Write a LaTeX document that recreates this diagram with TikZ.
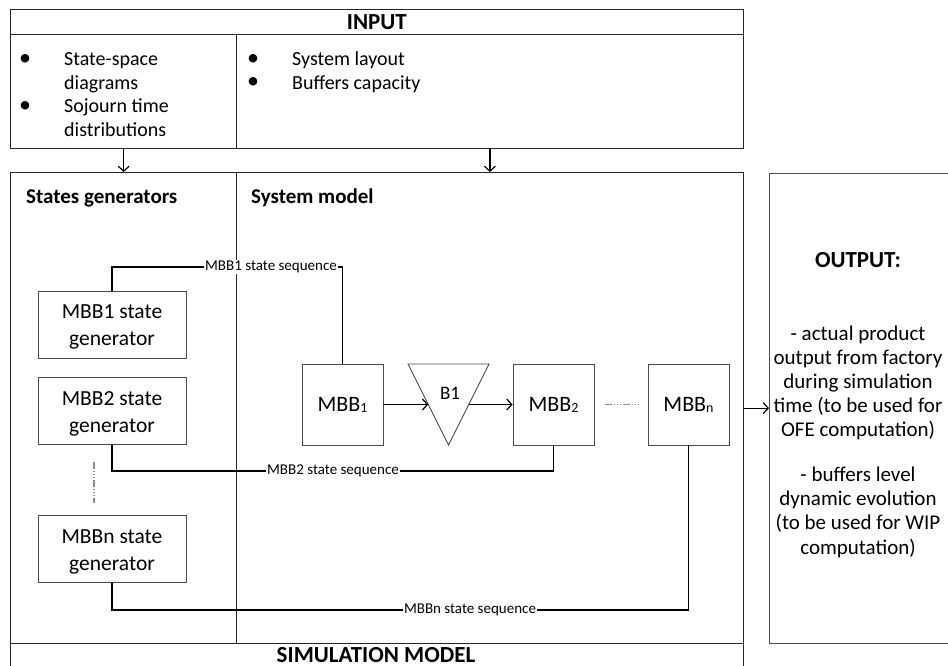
\documentclass[tikz,border=0pt]{standalone}
\usepackage{fontspec}
\setmainfont{Carlito}
\usetikzlibrary{arrows.meta,calc}
\newcommand\lowidx[1]{\raisebox{-1pt}{\fontsize{14pt}{14pt}\selectfont #1}}
\begin{document}
\begin{tikzpicture}[x=1pt,y=-1pt,
  frame/.style={draw=black!85,line width=1.3pt,inner sep=0pt},
  thinbox/.style={draw=black!70,line width=0.9pt},
  gen/.style={thinbox,minimum width=148pt,minimum height=67pt,inner sep=0pt,align=center,font=\fontsize{21.5pt}{27pt}\selectfont},
  mbb/.style={thinbox,minimum width=81pt,minimum height=81pt,inner sep=0pt,font=\fontsize{22pt}{24pt}\selectfont},
  seq/.style={draw=black,line width=1.6pt},
  seqlab/.style={fill=white,inner sep=1pt,font=\fontsize{15pt}{17pt}\selectfont},
  arr/.style={draw=black,line width=1.2pt,-{Straight Barb[length=5pt,width=11pt]}},
  ellip/.style={draw=black!45,line width=1.2pt,dash pattern=on 7pt off 2pt on 1pt off 2pt on 1pt off 2pt on 1pt off 2pt},
  body/.style={font=\fontsize{20pt}{24pt}\selectfont,inner sep=0pt},
  outbody/.style={font=\fontsize{21pt}{24pt}\selectfont,inner sep=0pt},
  bul/.style={font=\fontsize{24pt}{24pt}\selectfont,inner sep=0pt},
  head/.style={font=\bfseries\fontsize{23pt}{26pt}\selectfont},
  subhead/.style={font=\bfseries\fontsize{21pt}{24pt}\selectfont,inner sep=0pt}
]
\clip (0,0) rectangle (948,666);
\fill[white] (0,0) rectangle (948,666);

% ---- input block
\node[frame,head,anchor=north west,minimum width=732.5pt,minimum height=25pt] (inhead) at (10,9) {INPUT};
\node[frame,anchor=north west,minimum width=226pt,minimum height=114pt] (inL) at (10,34) {};
\node[frame,anchor=north west,minimum width=506.5pt,minimum height=114pt] (inR) at (236,34) {};

\node[bul,anchor=base] (bl1) at (25,65.5) {•};
\node[bul,anchor=base] (bl2) at (25,112.5) {•};
\node[body,anchor=base west] (tl1) at (64,66) {State-space};
\node[body,anchor=base west] (tl2) at (64,89.5) {diagrams};
\node[body,anchor=base west] (tl3) at (64,113) {Sojourn time};
\node[body,anchor=base west] (tl4) at (64,136.5) {distributions};
\node[bul,anchor=base] (br1) at (253,65.5) {•};
\node[bul,anchor=base] (br2) at (253,89) {•};
\node[body,anchor=base west] (tr1) at (292,66) {System layout};
\node[body,anchor=base west] (tr2) at (292,89.5) {Buffers capacity};

% ---- simulation model block
\node[frame,anchor=north west,minimum width=732.5pt,minimum height=530pt] (sim) at (10,172) {};
\node[frame,anchor=north west,minimum width=226pt,minimum height=471pt] (simL) at (10,172) {};
\node[frame,anchor=north west,minimum width=506.5pt,minimum height=471pt] (simR) at (236,172) {};
\node[head,anchor=base,inner sep=0pt] (simtitle) at (376,662) {SIMULATION MODEL};

\node[subhead,anchor=base west] (sgh) at (26,204) {States generators};
\node[subhead,anchor=base west] (smh) at (251,204) {System model};

\draw[arr] (inL.south) -- (inL.south |- simL.north);
\draw[arr] (inR.south) -- (inR.south |- simR.north);

% ---- state generators
\node[gen] (g1) at (112,324.5) {};
\node[gen] (g2) at (112,411) {};
\node[gen] (gn) at (112,549) {};
\foreach \g/\name in {g1/MBB1,g2/MBB2,gn/MBBn} {
  \node[gen,draw=none,anchor=center] (\g t) at ($(\g.center)+(0,2.5)$) {\name{} state\\generator};
}
\draw[ellip] ($(g2.south)+(-18,17)$) -- ($(gn.north)+(-18,-12)$);

% ---- production line
\node[mbb] (m1) at (342.5,404.5) {MBB\lowidx{1}};
\node[mbb] (m2) at (553.5,404.5) {MBB\lowidx{2}};
\node[mbb] (mn) at (688.5,404.5) {MBB\lowidx{n}};
\coordinate (btl) at (408,364);
\coordinate (btr) at (489,364);
\coordinate (bap) at (448.5,445);
\draw[thinbox] (btl) -- (btr) -- (bap) -- cycle;
\node[inner sep=0pt,anchor=base,font=\fontsize{19pt}{20pt}\selectfont] (b1) at (450,399) {B1};
\coordinate (b1in) at ($(btl)!0.5!(bap)$);
\coordinate (b1out) at ($(btr)!0.5!(bap)$);
\draw[arr] (m1.east) -- (b1in);
\draw[arr] (b1out) -- (b1out -| m2.west);
\draw[ellip] ($(m2.east)+(11,0)$) -- ($(mn.west)+(-7,0)$);

% ---- state sequences
\node[seqlab] (l1) at (271,267) {MBB1 state sequence};
\draw[seq] (g1.north) |- (l1.west);
\draw[seq] (l1.east) -| (m1.north);
\node[seqlab] (l2) at (333,471) {MBB2 state sequence};
\draw[seq] (g2.south) |- (l2.west);
\draw[seq] (l2.east) -| (m2.south);
\node[seqlab] (ln) at (470,610) {MBBn state sequence};
\draw[seq] (gn.south) |- (ln.west);
\draw[seq] (ln.east) -| (mn.south);

% ---- output block
\node[thinbox,anchor=north west,minimum width=200pt,minimum height=470pt,inner sep=0pt] (out) at (769,173) {};
\draw[arr] (simR.east) -- (simR.east -| out.west);
\node[head,anchor=base,inner sep=0pt] (outh) at (858,267) {OUTPUT:};
\foreach \txt/\yy [count=\i] in {{- actual product}/340,{output from factory}/364.2,{during simulation}/388.4,{time (to be used for}/412.6,{OFE computation)}/436.8,{- buffers level}/481.5,{dynamic evolution}/505.7,{(to be used for WIP}/529.9,{computation)}/554.1}
  \node[outbody,anchor=base] (o\i) at (858,\yy) {\txt};
\end{tikzpicture}
\end{document}
